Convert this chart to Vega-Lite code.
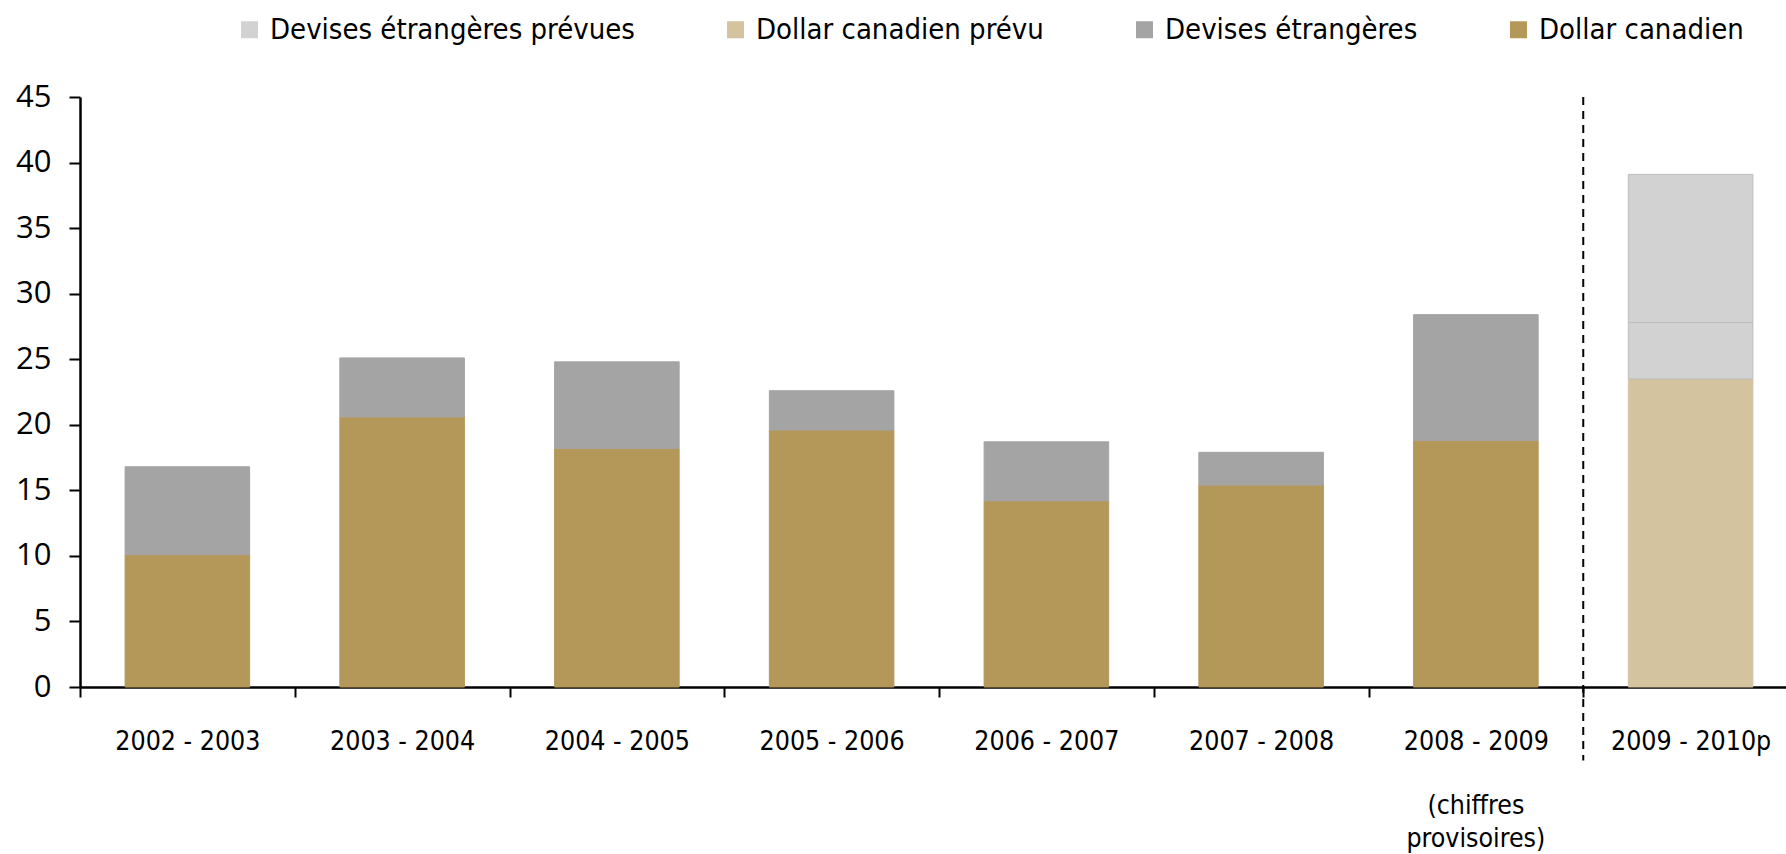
{
  "$schema": "https://vega.github.io/schema/vega-lite/v6.json",
  "autosize": {"type": "none"},
  "padding": {"left": 80, "top": 97, "right": 0, "bottom": 167},
  "width": 1706,
  "height": 590,
  "background": "white",
  "config": {"view": {"stroke": null}, "axis": {"grid": false}},
  "layer": [
    {
      "data": {"values": [
        {"periode": "2002 - 2003", "serie": "Dollar canadien", "ordre": 1, "valeur": 10.1},
        {"periode": "2002 - 2003", "serie": "Devises étrangères", "ordre": 2, "valeur": 6.7},
        {"periode": "2003 - 2004", "serie": "Dollar canadien", "ordre": 1, "valeur": 20.6},
        {"periode": "2003 - 2004", "serie": "Devises étrangères", "ordre": 2, "valeur": 4.5},
        {"periode": "2004 - 2005", "serie": "Dollar canadien", "ordre": 1, "valeur": 18.2},
        {"periode": "2004 - 2005", "serie": "Devises étrangères", "ordre": 2, "valeur": 6.6},
        {"periode": "2005 - 2006", "serie": "Dollar canadien", "ordre": 1, "valeur": 19.6},
        {"periode": "2005 - 2006", "serie": "Devises étrangères", "ordre": 2, "valeur": 3.0},
        {"periode": "2006 - 2007", "serie": "Dollar canadien", "ordre": 1, "valeur": 14.2},
        {"periode": "2006 - 2007", "serie": "Devises étrangères", "ordre": 2, "valeur": 4.5},
        {"periode": "2007 - 2008", "serie": "Dollar canadien", "ordre": 1, "valeur": 15.4},
        {"periode": "2007 - 2008", "serie": "Devises étrangères", "ordre": 2, "valeur": 2.5},
        {"periode": "2008 - 2009", "serie": "Dollar canadien", "ordre": 1, "valeur": 18.8},
        {"periode": "2008 - 2009", "serie": "Devises étrangères", "ordre": 2, "valeur": 9.6},
        {"periode": "2009 - 2010p", "serie": "Dollar canadien prévu", "ordre": 1, "valeur": 23.5},
        {"periode": "2009 - 2010p", "serie": "Devises étrangères prévues", "ordre": 2, "valeur": 4.3},
        {"periode": "2009 - 2010p", "serie": "Devises étrangères prévues", "ordre": 3, "valeur": 11.3}
      ]},
      "mark": {"type": "bar", "width": {"band": 0.58}, "strokeWidth": 1},
      "encoding": {
        "x": {
          "field": "periode", "type": "nominal", "sort": null,
          "scale": {"range": [0, 1718], "paddingInner": 0, "paddingOuter": 0},
          "axis": {
            "title": null, "labelAngle": 0, "domainColor": "black", "domainWidth": 2.5,
            "tickColor": "black", "tickWidth": 2, "tickSize": 10, "tickBand": "extent",
            "labelFont": "DejaVu Sans Condensed, sans-serif",
            "labelFontSize": 26.5, "labelColor": "black", "labelPadding": 31,
            "labelLimit": 400
          }
        },
        "y": {
          "field": "valeur", "type": "quantitative", "stack": "zero",
          "scale": {"domain": [0, 45], "nice": false},
          "axis": {
            "title": null, "values": [0, 5, 10, 15, 20, 25, 30, 35, 40, 45],
            "domainColor": "black", "domainWidth": 2.5, "tickColor": "black", "tickWidth": 2,
            "tickSize": 11, "labelFont": "Open Sans", "labelFontSize": 31, "labelColor": "black",
            "labelPadding": 18
          }
        },
        "color": {
          "field": "serie", "type": "nominal",
          "scale": {
            "domain": ["Devises étrangères prévues", "Dollar canadien prévu", "Devises étrangères", "Dollar canadien"],
            "range": ["#d2d2d2", "#d4c39f", "#a4a4a4", "#b49859"]
          },
          "legend": {
            "title": null, "orient": "none", "legendX": 155, "legendY": -82,
            "direction": "horizontal", "columns": 4, "columnPadding": 86,
            "symbolType": "square", "symbolSize": 289, "symbolStrokeWidth": 0,
            "labelFont": "DejaVu Sans Condensed, sans-serif",
            "labelFontSize": 29, "labelColor": "black", "labelOffset": 6, "labelLimit": 600
          }
        },
        "stroke": {
          "field": "serie", "type": "nominal",
          "scale": {
            "domain": ["Devises étrangères prévues", "Dollar canadien prévu", "Devises étrangères", "Dollar canadien"],
            "range": ["#bdbdbd", "#d4c39f", "#a4a4a4", "#b49859"]
          },
          "legend": null
        },
        "order": {"field": "ordre", "type": "quantitative"}
      }
    },
    {
      "data": {"values": [{}]},
      "mark": {"type": "rule", "strokeDash": [8, 6], "strokeWidth": 2, "color": "black"},
      "encoding": {
        "x": {"datum": "2009 - 2010p", "type": "nominal", "bandPosition": 0},
        "y": {"datum": 45, "type": "quantitative"},
        "y2": {"datum": -5.6}
      }
    },
    {
      "data": {"values": [{"note": ["(chiffres", "provisoires)"]}]},
      "mark": {"type": "text", "font": "DejaVu Sans Condensed, sans-serif", "fontSize": 26.5, "color": "black", "baseline": "top", "align": "center", "lineHeight": 33},
      "encoding": {
        "x": {"datum": "2008 - 2009", "type": "nominal"},
        "y": {"datum": -8.1, "type": "quantitative"},
        "text": {"field": "note"}
      }
    }
  ]
}
